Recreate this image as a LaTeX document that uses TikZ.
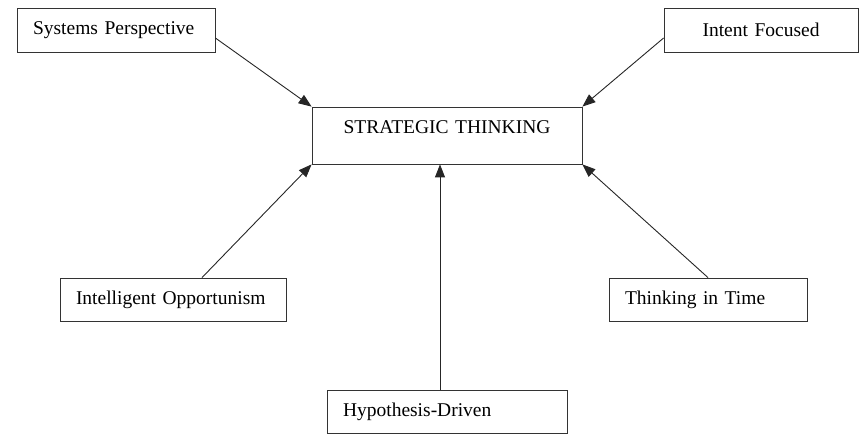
\documentclass[tikz,border=0pt]{standalone}
\usepackage{fontspec}
\setmainfont{Liberation Serif}
\usetikzlibrary{arrows.meta}
\begin{document}
\begin{tikzpicture}[x=1pt,y=-1pt,
  box/.style={draw=black!80, line width=0.8pt, inner xsep=16pt, inner ysep=0pt,
    font=\fontsize{19.5}{22}\selectfont, align=left},
  conn/.style={draw=black!85, line width=0.9pt, -{Triangle[length=13pt,width=10pt]}}]
\useasboundingbox (0,0) rectangle (859,446);
\node[box, text width=166pt, minimum height=44pt] (sp) at (116,30) {Systems Perspective};
\node[box, text width=162pt, minimum height=44pt, align=center] (if) at (761,30) {Intent Focused};
\node[box, text width=238pt, minimum height=57pt, align=center, text depth=16pt] (st) at (447,135.5) {STRATEGIC THINKING};
\node[box, text width=194pt, minimum height=43pt] (io) at (173,299.5) {Intelligent Opportunism};
\node[box, text width=166pt, minimum height=43pt] (tt) at (708,299.5) {Thinking in Time};
\node[box, text width=208pt, minimum height=43pt] (hd) at (447,411.5) {Hypothesis-Driven};
\draw[conn] ([yshift=-8pt]sp.east) -- (st.north west);
\draw[conn] ([yshift=-8pt]if.west) -- (st.north east);
\draw[conn] ([xshift=29pt]io.north) -- (st.south west);
\draw[conn] (tt.north) -- (st.south east);
\draw[conn] ([xshift=-7pt]hd.north) -- ([xshift=-7pt]st.south);
\end{tikzpicture}
\end{document}
